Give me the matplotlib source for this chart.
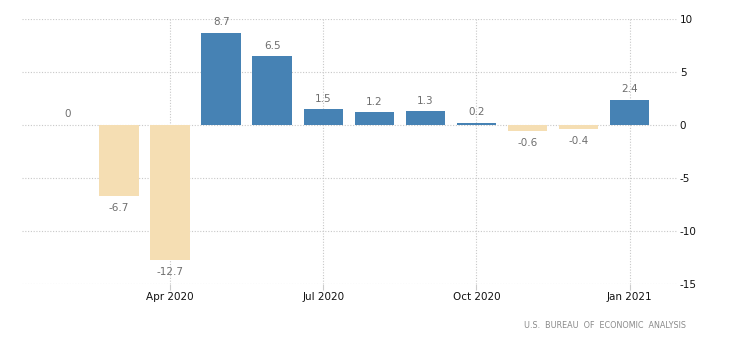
import matplotlib
matplotlib.use("Agg")
import matplotlib.pyplot as plt

months = ["Feb 2020", "Mar 2020", "Apr 2020", "May 2020", "Jun 2020", "Jul 2020",
          "Aug 2020", "Sep 2020", "Oct 2020", "Nov 2020", "Dec 2020", "Jan 2021"]
values = [0, -6.7, -12.7, 8.7, 6.5, 1.5, 1.2, 1.3, 0.2, -0.6, -0.4, 2.4]
tick_labels = ["Apr 2020", "Jul 2020", "Oct 2020", "Jan 2021"]
y_ticks = [10, 5, 0, -5, -10, -15]
source = "U.S.  BUREAU  OF  ECONOMIC  ANALYSIS"

POS = "#4682B4"
NEG = "#F5DEB3"
LABEL = "#6e6e6e"

fig = plt.figure(figsize=(7.30, 3.42), dpi=100)
ax = fig.add_axes([0.0301, 0.1696, 0.8973, 0.7748])

x = list(range(len(months)))
colors = [POS if v > 0 else NEG for v in values]
ax.bar(x, values, width=0.77, color=colors, zorder=2)

for xi, v in zip(x, values):
    txt = f"{v:g}"
    if v >= 0:
        ax.annotate(txt, (xi, v), xytext=(0, 4), textcoords="offset points",
                    ha="center", va="bottom", fontsize=7.5, color=LABEL)
    else:
        ax.annotate(txt, (xi, v), xytext=(0, -5), textcoords="offset points",
                    ha="center", va="top", fontsize=7.5, color=LABEL)

ax.set_xlim(-0.9, 11.93)
ax.set_ylim(-15, 10)

tick_pos = [months.index(t) for t in tick_labels]
ax.set_xticks(tick_pos)
ax.set_xticklabels(tick_labels, fontsize=7.5, color="#111111")
ax.set_yticks(y_ticks)
ax.set_yticklabels([str(t) for t in y_ticks], fontsize=7.5, color="#111111")
ax.yaxis.tick_right()
ax.tick_params(axis="y", length=0, pad=2)
ax.tick_params(axis="x", length=4, color="#cccccc", pad=2)

ax.grid(True, color="#c8c8c8", linestyle=(0, (1, 1.5)), linewidth=0.8, zorder=0)
ax.set_axisbelow(True)
for s in ax.spines.values():
    s.set_visible(False)

fig.text(0.9397, 0.035, source, ha="right", va="bottom", fontsize=5.8, color="#8a8a8a")

fig.savefig("out.png", dpi=100, facecolor="white")
